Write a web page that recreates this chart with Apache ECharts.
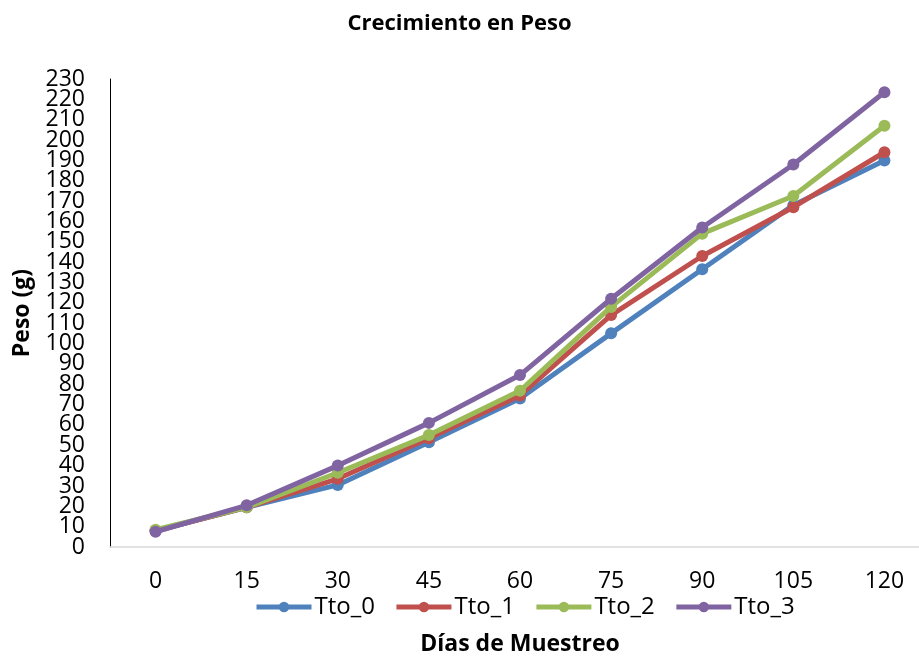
<!DOCTYPE html>
<html>
<head>
<meta charset="utf-8">
<script src="https://cdn.jsdelivr.net/npm/echarts@6/dist/echarts.min.js"></script>
<style>
  html, body { margin: 0; padding: 0; background: #fff; overflow: hidden; }
  #chart { width: 919px; height: 658px; }
</style>
</head>
<body>
<div id="chart"></div>
<script>
// Sampling days (x categories)
const dias = ['0', '15', '30', '45', '60', '75', '90', '105', '120'];

// Mean weight (g) per treatment
const tto0 = [8, 19.5, 30.5, 51.5, 73, 105, 136.5, 168, 190];
const tto1 = [8, 19.5, 33.5, 53.5, 74.5, 114, 143, 167, 194];
const tto2 = [8.5, 19.5, 36.5, 55, 76.8, 118, 154, 172.5, 207];
const tto3 = [7.5, 20.5, 40, 61, 84.5, 122, 157, 188, 223.5];

const seriesNames = ['Tto_0', 'Tto_1', 'Tto_2', 'Tto_3'];
const seriesData = [tto0, tto1, tto2, tto3];
const colors = ['#4F81BD', '#C0504D', '#9BBB59', '#8064A2'];

// Weight axis range
const yMin = 0;
const yMax = 230;
const yStep = 10;

const FONT = '"Open Sans", "Liberation Sans", sans-serif';

// The labels next to the axis ends are drawn by an overlaid twin axis,
// so the tightly packed 10 g labels are all kept.
const edgeLabels = [yMin + yStep, yMax - yStep];
const labelStyle = { fontFamily: FONT, fontSize: 23, color: '#000', margin: 25 };

const chart = echarts.init(document.getElementById('chart'), null, { renderer: 'canvas' });

chart.setOption({
  animation: false,
  backgroundColor: '#ffffff',
  color: colors,
  title: {
    text: 'Crecimiento en Peso',
    left: 'center',
    top: 8,
    textStyle: { fontFamily: FONT, fontSize: 22, fontWeight: 'bold', color: '#000' }
  },
  legend: {
    data: seriesNames,
    top: 590,
    left: 249,
    itemWidth: 55,
    itemHeight: 13,
    itemGap: 19,
    lineStyle: { width: 5 },
    textStyle: { fontFamily: FONT, fontSize: 24, color: '#000', padding: [0, 0, 0, -2] }
  },
  // the plot band runs slightly past the right edge of the canvas
  grid: {
    left: 110,
    width: 820,
    top: 79,
    bottom: 111,
    containLabel: false,
    outerBoundsMode: 'none'
  },
  xAxis: {
    type: 'category',
    data: dias,
    boundaryGap: true,
    name: 'Días de Muestreo',
    nameLocation: 'middle',
    nameGap: 86,
    nameTextStyle: { fontFamily: FONT, fontSize: 23, fontWeight: 'bold', color: '#000' },
    axisLine: { lineStyle: { color: '#d9d9d9', width: 1.5 } },
    axisTick: { show: false },
    axisLabel: { fontFamily: FONT, fontSize: 23, color: '#000', margin: 23 },
    splitLine: { show: false }
  },
  yAxis: [
    {
      type: 'value',
      position: 'left',
      min: yMin,
      max: yMax,
      interval: yStep,
      name: 'Peso (g)',
      nameLocation: 'middle',
      nameRotate: 90,
      nameGap: 76,
      nameTextStyle: { fontFamily: FONT, fontSize: 23, fontWeight: 'bold', color: '#000' },
      axisLine: { show: true, lineStyle: { color: '#000', width: 1 } },
      axisTick: { show: false },
      axisLabel: Object.assign({}, labelStyle, {
        showMinLabel: true, showMaxLabel: true, hideOverlap: false,
        formatter: (v) => (edgeLabels.includes(v) ? '' : String(v))
      }),
      splitLine: { show: false }
    },
    {
      type: 'value',
      position: 'left',
      offset: 0,
      min: yMin,
      max: yMax,
      interval: yStep,
      axisLine: { show: false },
      axisTick: { show: false },
      axisLabel: Object.assign({}, labelStyle, {
        showMinLabel: true, showMaxLabel: true, hideOverlap: false,
        formatter: (v) => (edgeLabels.includes(v) ? String(v) : '')
      }),
      splitLine: { show: false }
    }
  ],
  series: seriesNames.map((name, i) => ({
    name: name,
    type: 'line',
    yAxisIndex: 0,
    data: seriesData[i],
    symbol: 'circle',
    symbolSize: 12,
    lineStyle: { width: 5, color: colors[i] },
    itemStyle: { color: colors[i] },
    z: 2 + i
  }))
});
</script>
</body>
</html>
